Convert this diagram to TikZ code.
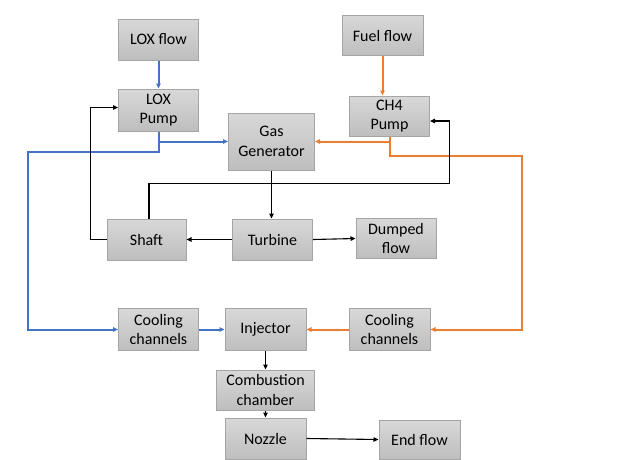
\documentclass[tikz,border=0pt]{standalone}
\usepackage{fontspec}
\setmainfont{Carlito}
\usetikzlibrary{arrows.meta}
\definecolor{boxtop}{HTML}{D8D8D8}
\definecolor{boxbot}{HTML}{BEBEBE}
\definecolor{boxline}{HTML}{A5A5A5}
\definecolor{loxblue}{HTML}{4472C4}
\definecolor{fuelorange}{HTML}{ED7D31}
\tikzset{
  blk/.style={draw=boxline, line width=1pt, top color=boxtop, bottom color=boxbot,
    align=center, inner sep=0pt, text=black,
    font=\fontsize{16}{19.3}\selectfont},
  conn/.style={line width=1.1pt, -{Triangle[length=5pt,width=4.5pt]}},
  lox/.style={conn, line width=2pt, color=loxblue},
  fuel/.style={conn, line width=2pt, color=fuelorange},
}
\begin{document}
\begin{tikzpicture}[x=1pt,y=-1pt]
\useasboundingbox (0,0) rectangle (622,459);
\node[blk, minimum width=80pt, minimum height=41pt] (loxflow) at (158.5,39.5) {LOX flow};
\node[blk, minimum width=81pt, minimum height=40pt] (fuelflow) at (382.5,35.5) {Fuel flow};
\node[blk, minimum width=80pt, minimum height=42pt] (loxpump) at (158.5,110) {LOX\\Pump};
\node[blk, minimum width=80pt, minimum height=40pt] (ch4pump) at (389.5,116) {CH4\\Pump};
\node[blk, minimum width=86pt, minimum height=57pt] (gg) at (271.5,141.5) {Gas\\Generator};
\node[blk, minimum width=79pt, minimum height=41pt] (shaft) at (146.5,239.5) {Shaft};
\node[blk, minimum width=80pt, minimum height=41pt] (turbine) at (272.5,239.5) {Turbine};
\node[blk, minimum width=80pt, minimum height=40pt] (dumped) at (396,238.5) {Dumped\\flow};
\node[blk, minimum width=80pt, minimum height=42pt] (coolL) at (158.5,329.5) {Cooling\\channels};
\node[blk, minimum width=81pt, minimum height=42pt] (injector) at (265.5,329.5) {Injector};
\node[blk, minimum width=81pt, minimum height=42pt] (coolR) at (389.5,329.5) {Cooling\\channels};
\node[blk, minimum width=98pt, minimum height=40pt] (comb) at (265.5,390) {Combustion\\chamber};
\node[blk, minimum width=81pt, minimum height=41pt] (nozzle) at (265.5,438.5) {Nozzle};
\node[blk, minimum width=81pt, minimum height=39pt] (endflow) at (419.5,439.5) {End flow};

\coordinate (b1) at (27.5,151.5);
\coordinate (o1) at (521.5,155.5);
\coordinate (k1) at (90.5,107.5);
\coordinate (k2) at (449.5,183.5);

% LOX lines
\draw[lox] (loxflow.south) -- (loxpump.north);
\draw[lox] (loxpump.south) |- (gg.west);
\draw[lox] (loxpump.south) |- (b1) |- (coolL.west);
\draw[lox] (coolL.east) -- (injector.west);
% Fuel lines
\draw[fuel] (fuelflow.south) -- (fuelflow.south |- ch4pump.north);
\draw[fuel] (ch4pump.south) |- (gg.east);
\draw[fuel] (ch4pump.south) |- (o1) |- (coolR.east);
\draw[fuel] (coolR.west) -- (injector.east);
% Black lines
\draw[conn] (gg.south) -- (gg.south |- turbine.north);
\draw[conn] (turbine.west) -- (shaft.east);
\draw[conn] (turbine.east) -- (dumped.west);
\draw[conn] (shaft.west) -| (k1) -- (k1 -| loxpump.west);
\draw[conn] ([xshift=2.5pt]shaft.north) |- (k2) |- ([yshift=-5pt]ch4pump.east);
\draw[conn] (injector.south) -- (comb.north);
\draw[conn] (comb.south) -- (nozzle.north);
\draw[conn] (nozzle.east) -- (endflow.west);
\end{tikzpicture}
\end{document}
